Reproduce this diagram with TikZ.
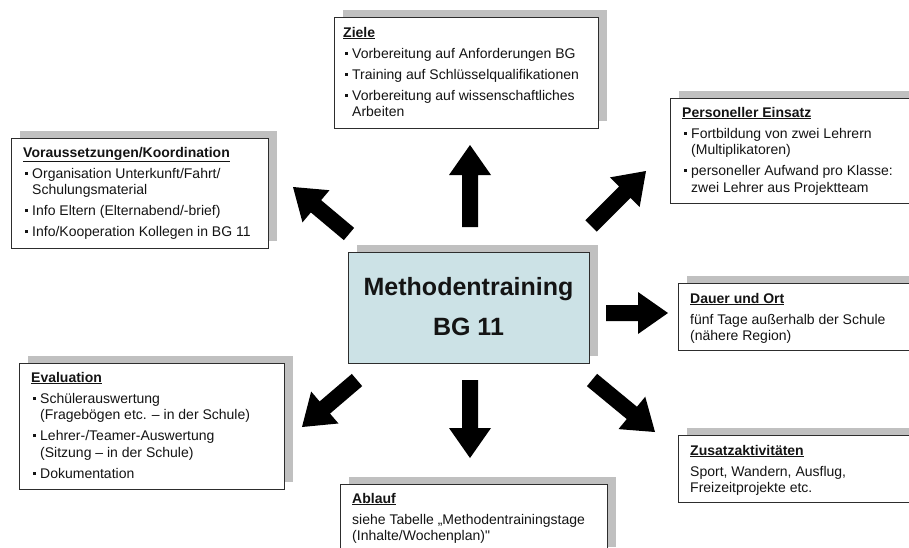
\documentclass[tikz,border=0pt]{standalone}
\usepackage{fontspec}
\setmainfont{Liberation Sans}[Ligatures=TeXOff]
\usetikzlibrary{calc,shadows}

\definecolor{shadowgray}{RGB}{192,192,192}
\definecolor{hubfill}{RGB}{204,226,230}
\definecolor{edgegray}{RGB}{45,45,45}
\definecolor{inkblack}{RGB}{20,20,20}

% text helpers for the cards
\newcommand\boxtitle[1]{\textbf{\underline{#1}}}
\newcommand\sqbullet{\rule[3.5pt]{3pt}{3pt}}
\newcommand\bitem[1]{\par\hangindent=9pt\hangafter=1\noindent\makebox[9pt][l]{\hspace{2pt}\sqbullet}#1}
\newcommand\boxtext[1]{\parbox[t]{300pt}{\fontsize{14}{16.5}\selectfont\raggedright\parskip=4.5pt\relax #1}}

% thick block arrow from a tail coordinate to a tip coordinate
\newcommand\blockarrow[2]{%
  \coordinate (#2-neck) at ($(#2)!30pt!(#1)$);
  \fill[arrowfill] ($(#1)!8pt!90:(#2)$) -- ($(#2-neck)!8pt!90:(#2)$)
     -- ($(#2-neck)!21pt!90:(#2)$) -- (#2)
     -- ($(#2-neck)!21pt!-90:(#2)$) -- ($(#2-neck)!8pt!-90:(#2)$)
     -- ($(#1)!8pt!-90:(#2)$) -- cycle;}

\tikzset{
  card/.style={draw=edgegray, line width=1.1pt, fill=white, anchor=north west,
    inner sep=0pt, general shadow={fill=shadowgray, shadow xshift=8pt, shadow yshift=8pt}},
  hub/.style={card, fill=hubfill},
  cardtext/.style={anchor=base west, inner sep=0pt, text=inkblack},
  arrowfill/.style={fill=black}
}

\begin{document}
\begin{tikzpicture}[x=1pt,y=-1pt]
\useasboundingbox (0,0) rectangle (909,547);
\clip (0,0) rectangle (909,547);
\fill[white] (0,0) rectangle (909,547);

% cards
\node[card, minimum width=264, minimum height=111] (ziele) at (334,17) {};
\node[card, minimum width=257, minimum height=110] (voraus) at (11,138) {};
\node[card, minimum width=260, minimum height=105] (personal) at (670,98) {};
\node[hub,  minimum width=241, minimum height=111] (hub) at (348,252) {};
\node[card, minimum width=265, minimum height=126] (eval) at (19,363) {};
\node[card, minimum width=267, minimum height=70]  (ablauf) at (340,484) {};
\node[card, minimum width=250, minimum height=67]  (dauer) at (678,283) {};
\node[card, minimum width=250, minimum height=67]  (zusatz) at (678,435) {};

% card texts
\node[cardtext] (ziele-t) at (343,37) {\boxtext{\boxtitle{Ziele}
  \bitem{Vorbereitung auf Anforderungen BG}
  \bitem{Training auf Schlüsselqualifikationen}
  \bitem{Vorbereitung auf wissenschaftliches\newline Arbeiten}}};

\node[cardtext] (voraus-t) at (23,157) {\boxtext{\boxtitle{Voraussetzungen/Koordination}
  \bitem{Organisation Unterkunft/Fahrt/\newline Schulungsmaterial}
  \bitem{Info Eltern (Elternabend/-brief)}
  \bitem{Info/Kooperation Kollegen in BG 11}}};

\node[cardtext] (personal-t) at (682,117) {\boxtext{\boxtitle{Personeller Einsatz}
  \bitem{Fortbildung von zwei Lehrern\newline (Multiplikatoren)}
  \bitem{personeller Aufwand pro Klasse:\newline zwei Lehrer aus Projektteam}}};

\node[cardtext] (eval-t) at (31,382) {\boxtext{\boxtitle{Evaluation}
  \bitem{Schülerauswertung\newline (Fragebögen etc. – in der Schule)}
  \bitem{Lehrer-/Teamer-Auswertung\newline (Sitzung – in der Schule)}
  \bitem{Dokumentation}}};

\node[cardtext] (ablauf-t) at (352,503) {\boxtext{\boxtitle{Ablauf}\par
  siehe Tabelle „Methodentrainingstage\newline (Inhalte/Wochenplan)"}};

\node[cardtext] (dauer-t) at (690,303) {\boxtext{\boxtitle{Dauer und Ort}\par
  fünf Tage außerhalb der Schule\newline (nähere Region)}};

\node[cardtext] (zusatz-t) at (690,455) {\boxtext{\boxtitle{Zusatzaktivitäten}\par
  Sport, Wandern, Ausflug,\newline Freizeitprojekte etc.}};

% hub label
\node[anchor=base, inner sep=0pt, text=inkblack] (hub-t) at (468.5,295)
  {\parbox[t]{240pt}{\centering\fontsize{25}{40}\selectfont\bfseries Methodentraining\\BG 11}};

% arrow ends
\coordinate (a-up-tail) at (470,227);  \coordinate (a-up-tip) at (470,145);
\coordinate (a-nw-tail) at (349,234);  \coordinate (a-nw-tip) at (293,187);
\coordinate (a-ne-tail) at (591,226);  \coordinate (a-ne-tip) at (646,171);
\coordinate (a-e-tail)  at (606,313);  \coordinate (a-e-tip)  at (668,313);
\coordinate (a-sw-tail) at (357,380);  \coordinate (a-sw-tip) at (302,427);
\coordinate (a-s-tail)  at (470,380);  \coordinate (a-s-tip)  at (470,458);
\coordinate (a-se-tail) at (592,380);  \coordinate (a-se-tip) at (655,432);

\blockarrow{a-up-tail}{a-up-tip}
\blockarrow{a-nw-tail}{a-nw-tip}
\blockarrow{a-ne-tail}{a-ne-tip}
\blockarrow{a-e-tail}{a-e-tip}
\blockarrow{a-sw-tail}{a-sw-tip}
\blockarrow{a-s-tail}{a-s-tip}
\blockarrow{a-se-tail}{a-se-tip}
\end{tikzpicture}
\end{document}
